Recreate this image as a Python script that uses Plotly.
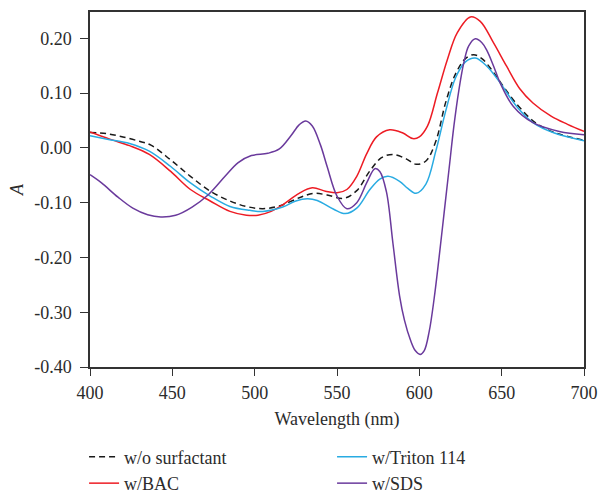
import plotly.graph_objects as go

# ---- data ----
wl_none = [400, 410, 420, 430, 437, 449, 461, 473, 485, 495, 505, 515, 528, 536, 544, 554, 562, 570, 577, 584, 592, 598, 604, 610, 616, 622, 628, 633, 638, 645, 652, 660, 670, 682, 700]
a_none = [0.028, 0.026, 0.020, 0.012, 0.005, -0.022, -0.052, -0.079, -0.097, -0.107, -0.111, -0.106, -0.090, -0.083, -0.086, -0.092, -0.078, -0.042, -0.018, -0.012, -0.020, -0.030, -0.024, 0.012, 0.083, 0.135, 0.163, 0.170, 0.163, 0.138, 0.108, 0.077, 0.047, 0.028, 0.014]

wl_bac = [400, 412, 424, 436, 449, 461, 473, 485, 495, 502, 510, 517, 527, 535, 543, 550, 556, 562, 568, 574, 582, 590, 596, 600, 605, 611, 617, 623, 631, 637, 645, 653, 661, 669, 680, 690, 700]
a_bac = [0.029, 0.016, 0.004, -0.012, -0.043, -0.076, -0.097, -0.116, -0.123, -0.123, -0.116, -0.104, -0.083, -0.073, -0.079, -0.082, -0.076, -0.052, -0.011, 0.020, 0.033, 0.027, 0.017, 0.020, 0.040, 0.100, 0.161, 0.210, 0.239, 0.231, 0.192, 0.149, 0.108, 0.082, 0.058, 0.043, 0.030]

wl_triton = [400, 412, 424, 436, 449, 461, 473, 485, 497, 505, 517, 525, 532, 538, 548, 555, 562, 570, 576, 581, 588, 593, 598, 604, 610, 616, 622, 628, 634, 641, 649, 659, 669, 682, 700]
a_triton = [0.022, 0.015, 0.008, -0.006, -0.034, -0.064, -0.088, -0.107, -0.114, -0.116, -0.108, -0.097, -0.093, -0.096, -0.112, -0.120, -0.110, -0.076, -0.057, -0.052, -0.061, -0.074, -0.083, -0.066, -0.006, 0.067, 0.128, 0.157, 0.164, 0.149, 0.119, 0.076, 0.046, 0.027, 0.013]

wl_sds = [400, 407, 417, 426, 435, 443, 452, 462, 472, 482, 490, 498, 508, 515, 522, 527, 531, 535, 540, 544, 550, 556, 562, 568, 573, 576, 580, 584, 588, 591, 594.5, 597.5, 600.5, 603, 606, 609, 612, 615, 618, 621, 624, 627, 630, 634, 638, 641, 645, 649, 657, 669, 685, 700]
a_sds = [-0.049, -0.064, -0.090, -0.110, -0.122, -0.126, -0.123, -0.108, -0.085, -0.052, -0.027, -0.014, -0.010, -0.002, 0.022, 0.042, 0.049, 0.040, 0.005, -0.034, -0.088, -0.111, -0.100, -0.064, -0.038, -0.043, -0.080, -0.175, -0.270, -0.315, -0.350, -0.370, -0.377, -0.370, -0.335, -0.275, -0.200, -0.120, -0.040, 0.040, 0.105, 0.155, 0.186, 0.199, 0.192, 0.178, 0.150, 0.119, 0.076, 0.046, 0.030, 0.024]

x_ticks = [400, 450, 500, 550, 600, 650, 700]
y_ticks = [-0.40, -0.30, -0.20, -0.10, 0.00, 0.10, 0.20]
y_tick_labels = ["-0.40", "-0.30", "-0.20", "-0.10", "0.00", "0.10", "0.20"]

FONT = "Liberation Serif"
FS = 18
TXT = "#2b2b2b"

fig = go.Figure()
fig.add_trace(go.Scatter(x=wl_none, y=a_none, name="w/o surfactant", mode="lines",
                         line=dict(color="#1a1a1a", width=1.5, dash="6px,4px", shape="spline"),
                         legend="legend"))
fig.add_trace(go.Scatter(x=wl_bac, y=a_bac, name="w/BAC", mode="lines",
                         line=dict(color="#ed1c24", width=1.5, shape="spline"),
                         legend="legend3"))
fig.add_trace(go.Scatter(x=wl_triton, y=a_triton, name="w/Triton 114", mode="lines",
                         line=dict(color="#29abe2", width=1.5, shape="spline"),
                         legend="legend2"))
fig.add_trace(go.Scatter(x=wl_sds, y=a_sds, name="w/SDS", mode="lines",
                         line=dict(color="#6a3a9c", width=1.5, shape="spline"),
                         legend="legend4"))

leg_common = dict(orientation="v", yanchor="middle", xanchor="left",
                  font=dict(family=FONT, size=FS, color=TXT), bgcolor="rgba(0,0,0,0)")
row1 = -0.2535
row2 = -0.328
fig.update_layout(
    width=598, height=493,
    margin=dict(l=90, r=14, t=12, b=126, autoexpand=False),
    paper_bgcolor="white", plot_bgcolor="white",
    font=dict(family=FONT, size=FS, color=TXT),
    showlegend=True,
    legend=dict(x=-0.012, y=row1, **leg_common),
    legend2=dict(x=0.49, y=row1, **leg_common),
    legend3=dict(x=-0.012, y=row2, **leg_common),
    legend4=dict(x=0.49, y=row2, **leg_common),
)
fig.update_xaxes(range=[400, 700], tickvals=x_ticks, ticks="outside", ticklen=7, tickwidth=1.2,
                 tickcolor="#333", showline=True, linecolor="#333", linewidth=1.5, mirror=True,
                 showgrid=False, zeroline=False, tickfont=dict(family=FONT, size=FS, color=TXT),
                 ticklabelstandoff=2,
                 title=dict(text="Wavelength (nm)", font=dict(family=FONT, size=FS, color=TXT), standoff=10))
fig.update_yaxes(range=[-0.40, 0.248], tickvals=y_ticks, ticktext=y_tick_labels, ticks="outside",
                 ticklen=8, tickwidth=1.2, tickcolor="#333", showline=True, linecolor="#333",
                 linewidth=1.5, mirror=True, showgrid=False, zeroline=False,
                 tickfont=dict(family=FONT, size=FS, color=TXT), ticklabelstandoff=5,
                 title=dict(text="<i>A</i>", font=dict(family=FONT, size=FS, color=TXT), standoff=6))

fig.write_html("out.html")
